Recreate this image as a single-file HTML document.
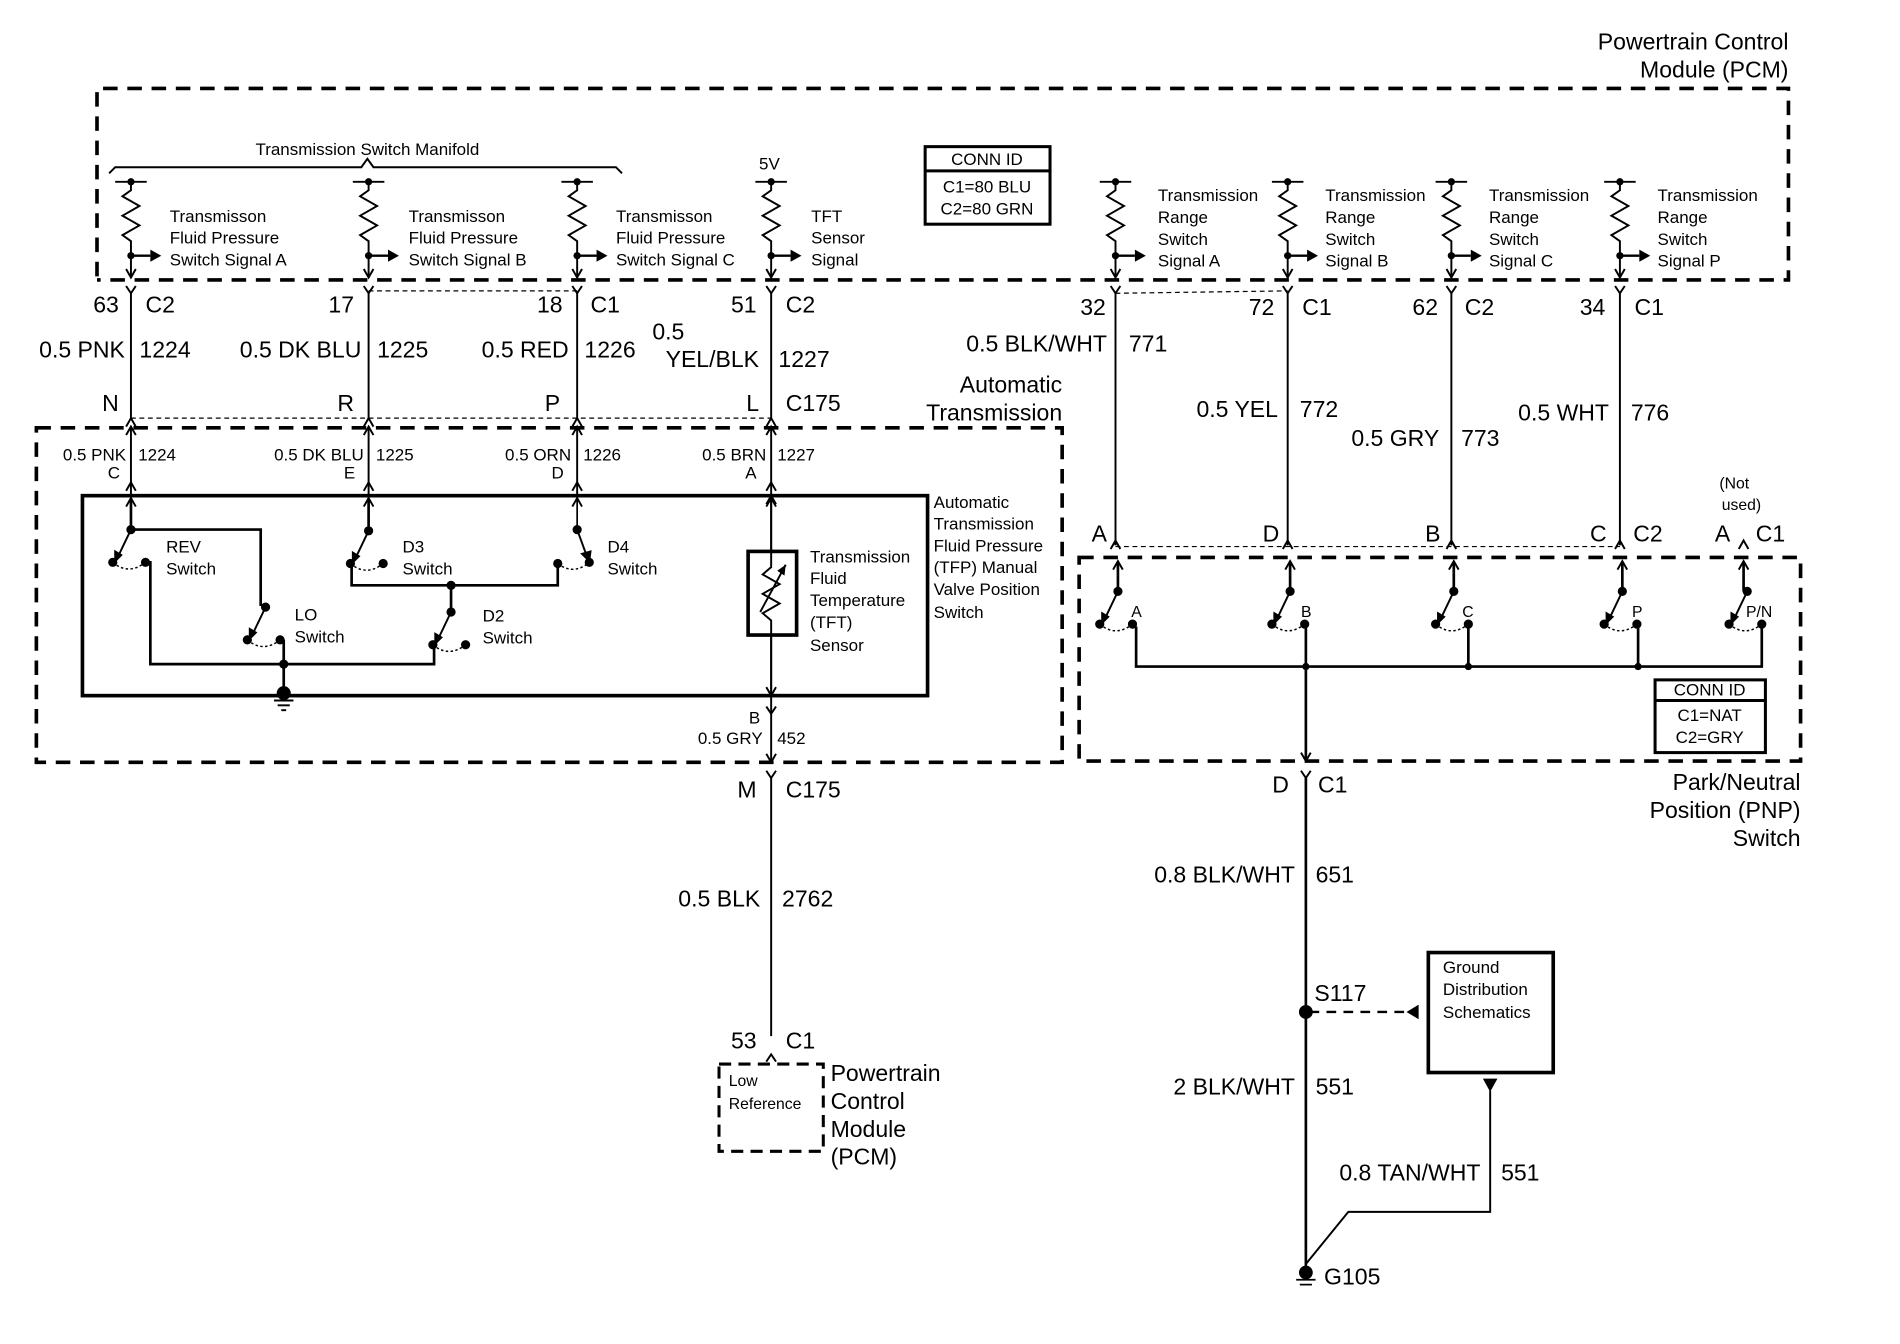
<!DOCTYPE html>
<html><head><meta charset="utf-8"><style>
html,body{margin:0;padding:0;background:#fff;}
svg{display:block;}
text{font-family:"Liberation Sans",Arial,sans-serif;fill:#000;}
.s{font-size:14px;}
.m{font-size:19px;}
.e{text-anchor:end;}
</style></head><body>
<svg width="1900" height="1344" viewBox="0 0 1567 1109" preserveAspectRatio="none" xmlns="http://www.w3.org/2000/svg">
<defs>
<g id="res" stroke="#000" fill="none" stroke-width="1.6">
<line x1="-13" y1="150" x2="13" y2="150"/>
<polyline points="0,150 0,157 -7,162 7,170 -7,178 7,186 -7,194 0,199 0,228"/>
<line x1="0" y1="211" x2="16" y2="211" stroke-width="2"/>
<polygon points="16,206 25,211 16,216" fill="#000" stroke="none"/>
<circle cx="0" cy="150" r="3" fill="#000" stroke="none"/>
<circle cx="0" cy="211" r="3" fill="#000" stroke="none"/>
<polyline points="-4,222 0,229 4,222"/>
<polyline points="-4,236 0,242 4,236"/>
</g>
<g id="up" stroke="#000" fill="none" stroke-width="1.6"><polyline points="-4,7 0,0 4,7"/></g>
<g id="sw" stroke="#000" fill="#000" stroke-width="1.6">
<circle cx="0" cy="0" r="3"/><circle cx="-15" cy="27" r="3"/><circle cx="12" cy="27" r="3"/>
<line x1="0" y1="0" x2="-11" y2="23"/>
<polygon points="-13,26 -13,18 -8,21"/>
<path d="M-15,27 Q-2,38 12,27" fill="none" stroke-dasharray="2,2" stroke-width="1.2"/>
</g>
</defs>

<text x="1475" y="41" class="m e">Powertrain Control</text>
<text x="1475" y="64" class="m e">Module (PCM)</text>
<g stroke="#000" stroke-width="3" fill="none" stroke-dasharray="12,8">
<polyline points="80,228 80,73 1475,73 1475,231 80,231"/>
</g>
<polyline points="90,143 95,138 298,138 303,131 308,138 508,138 513,143" fill="none" stroke="#000" stroke-width="1.6"/>
<text x="303" y="128" class="s" text-anchor="middle">Transmission Switch Manifold</text>
<text x="626" y="140" class="s">5V</text>
<rect x="763" y="121" width="103" height="64" fill="none" stroke="#000" stroke-width="2.5"/>
<line x1="763" y1="141" x2="866" y2="141" stroke="#000" stroke-width="2.5"/>
<text x="814" y="136" class="s" text-anchor="middle">CONN ID</text>
<text x="814" y="159" class="s" text-anchor="middle">C1=80 BLU</text>
<text x="814" y="177" class="s" text-anchor="middle">C2=80 GRN</text>

<use href="#res" x="108"/><use href="#res" x="304"/><use href="#res" x="476"/><use href="#res" x="636"/>
<use href="#res" x="920"/><use href="#res" x="1062"/><use href="#res" x="1197"/><use href="#res" x="1336"/>

<g class="s">
<text x="140" y="183">Transmisson</text><text x="140" y="201">Fluid Pressure</text><text x="140" y="219">Switch Signal A</text>
<text x="337" y="183">Transmisson</text><text x="337" y="201">Fluid Pressure</text><text x="337" y="219">Switch Signal B</text>
<text x="508" y="183">Transmisson</text><text x="508" y="201">Fluid Pressure</text><text x="508" y="219">Switch Signal C</text>
<text x="669" y="183">TFT</text><text x="669" y="201">Sensor</text><text x="669" y="219">Signal</text>
<text x="955" y="166">Transmission</text><text x="955" y="184">Range</text><text x="955" y="202">Switch</text><text x="955" y="220">Signal A</text>
<text x="1093" y="166">Transmission</text><text x="1093" y="184">Range</text><text x="1093" y="202">Switch</text><text x="1093" y="220">Signal B</text>
<text x="1228" y="166">Transmission</text><text x="1228" y="184">Range</text><text x="1228" y="202">Switch</text><text x="1228" y="220">Signal C</text>
<text x="1367" y="166">Transmission</text><text x="1367" y="184">Range</text><text x="1367" y="202">Switch</text><text x="1367" y="220">Signal P</text>
</g>

<g stroke="#000" stroke-width="1.6" fill="none">
<line x1="108" y1="242" x2="108" y2="345"/><line x1="304" y1="242" x2="304" y2="345"/>
<line x1="476" y1="242" x2="476" y2="345"/><line x1="636" y1="242" x2="636" y2="345"/>
<line x1="304" y1="240" x2="476" y2="240" stroke-dasharray="4,3" stroke-width="1"/>
<line x1="108" y1="345" x2="636" y2="345" stroke-dasharray="4,3" stroke-width="1"/>
<line x1="920" y1="242" x2="1062" y2="240" stroke-dasharray="4,3" stroke-width="1"/>
<line x1="108" y1="352" x2="108" y2="409"/><line x1="304" y1="352" x2="304" y2="409"/>
<line x1="476" y1="352" x2="476" y2="409"/><line x1="636" y1="352" x2="636" y2="409"/>
</g>
<use href="#up" x="108" y="345"/><use href="#up" x="304" y="345"/><use href="#up" x="476" y="345"/><use href="#up" x="636" y="345"/>
<use href="#up" x="108" y="352"/><use href="#up" x="304" y="352"/><use href="#up" x="476" y="352"/><use href="#up" x="636" y="352"/>
<use href="#up" x="108" y="398"/><use href="#up" x="304" y="398"/><use href="#up" x="476" y="398"/><use href="#up" x="636" y="398"/>

<g class="m">
<text x="98" y="258" class="e">63</text><text x="120" y="258">C2</text>
<text x="292" y="258" class="e">17</text>
<text x="464" y="258" class="e">18</text><text x="487" y="258">C1</text>
<text x="624" y="258" class="e">51</text><text x="648" y="258">C2</text>
<text x="103" y="295" class="e">0.5 PNK</text><text x="115" y="295">1224</text>
<text x="298" y="295" class="e">0.5 DK BLU</text><text x="311" y="295">1225</text>
<text x="469" y="295" class="e">0.5 RED</text><text x="482" y="295">1226</text>
<text x="538" y="280">0.5</text><text x="626" y="303" class="e">YEL/BLK</text><text x="642" y="303">1227</text>
<text x="98" y="339" class="e">N</text><text x="292" y="339" class="e">R</text>
<text x="462" y="339" class="e">P</text><text x="626" y="339" class="e">L</text><text x="648" y="339">C175</text>
<text x="876" y="324" class="e">Automatic</text><text x="876" y="347" class="e">Transmission</text>
</g>

<rect x="30" y="353" width="846" height="276" fill="none" stroke="#000" stroke-width="3" stroke-dasharray="12,8"/>
<g class="s">
<text x="104" y="380" class="e">0.5 PNK</text><text x="114" y="380">1224</text><text x="99" y="395" class="e">C</text>
<text x="300" y="380" class="e">0.5 DK BLU</text><text x="310" y="380">1225</text><text x="293" y="395" class="e">E</text>
<text x="471" y="380" class="e">0.5 ORN</text><text x="481" y="380">1226</text><text x="465" y="395" class="e">D</text>
<text x="632" y="380" class="e">0.5 BRN</text><text x="641" y="380">1227</text><text x="624" y="395" class="e">A</text>
</g>
<rect x="68" y="409" width="697" height="165" fill="none" stroke="#000" stroke-width="3"/>
<use href="#up" x="108" y="411"/><use href="#up" x="304" y="411"/><use href="#up" x="476" y="411"/><use href="#up" x="636" y="411"/>
<g stroke="#000" stroke-width="2.2" fill="none">
<line x1="108" y1="411" x2="108" y2="437"/>
<polyline points="108,437 215,437 215,500"/>
<polyline points="120,464 124,464 124,548 358,548 358,531"/>
<line x1="234" y1="528" x2="234" y2="574"/>
<line x1="304" y1="411" x2="304" y2="437"/>
<line x1="476" y1="411" x2="476" y2="437" stroke-width="1.4"/>
<polyline points="290,465 290,483 460,483 460,465"/>
<line x1="372" y1="483" x2="372" y2="505"/>
<line x1="636" y1="411" x2="636" y2="574" stroke-width="1.6"/>
</g>
<use href="#sw" x="108" y="437"/>
<use href="#sw" x="219" y="501"/>
<use href="#sw" x="304" y="438"/>
<use href="#sw" x="372" y="505"/>
<g stroke="#000" fill="#000" stroke-width="1.6">
<circle cx="476" cy="437" r="3"/><circle cx="460" cy="465" r="3"/><circle cx="486" cy="464" r="3"/>
<line x1="476" y1="437" x2="484" y2="459"/><polygon points="486,463 480,457 487,455"/>
<path d="M460,465 Q473,475 486,464" fill="none" stroke-dasharray="2,2" stroke-width="1.2"/>
<circle cx="234" cy="548" r="3"/><circle cx="372" cy="483" r="3"/>
<circle cx="234" cy="572" r="5"/>
<line x1="226" y1="578" x2="242" y2="578"/><line x1="229" y1="582" x2="239" y2="582"/><line x1="232" y1="586" x2="236" y2="586"/>
</g>
<rect x="617" y="455" width="40" height="69" fill="#fff" stroke="#000" stroke-width="3"/>
<g stroke="#000" stroke-width="1.6" fill="none">
<line x1="636" y1="409" x2="636" y2="455"/><line x1="636" y1="524" x2="636" y2="574"/>
<polyline points="636,455 636,468 629,474 643,482 629,490 643,498 629,506 636,512 636,524"/>
<line x1="627" y1="505" x2="648" y2="466"/>
<polyline points="632,567 636,574 640,567"/>
<polyline points="632,416 636,409 640,416"/>
</g>
<polygon points="648,466 641,471 647,475" fill="#000"/>
<g class="s">
<text x="137" y="456">REV</text><text x="137" y="474">Switch</text>
<text x="243" y="512">LO</text><text x="243" y="530">Switch</text>
<text x="332" y="456">D3</text><text x="332" y="474">Switch</text>
<text x="501" y="456">D4</text><text x="501" y="474">Switch</text>
<text x="398" y="513">D2</text><text x="398" y="531">Switch</text>
<text x="668" y="464">Transmission</text><text x="668" y="482">Fluid</text><text x="668" y="500">Temperature</text><text x="668" y="518">(TFT)</text><text x="668" y="537">Sensor</text>
<text x="770" y="419">Automatic</text><text x="770" y="437">Transmission</text><text x="770" y="455">Fluid Pressure</text><text x="770" y="473">(TFP) Manual</text><text x="770" y="491">Valve Position</text><text x="770" y="510">Switch</text>
<text x="627" y="597" class="e">B</text>
<text x="629" y="614" class="e">0.5 GRY</text><text x="641" y="614">452</text>
</g>
<g stroke="#000" stroke-width="1.6" fill="none">
<polyline points="632,583 636,589 640,583"/>
<line x1="636" y1="574" x2="636" y2="629"/>
<polyline points="632,622 636,629 640,622"/>
<polyline points="632,636 636,642 640,636"/>
<line x1="636" y1="642" x2="636" y2="855"/>
<polyline points="632,876 636,870 640,876"/>
</g>
<g class="m">
<text x="624" y="658" class="e">M</text><text x="648" y="658">C175</text>
<text x="627" y="748" class="e">0.5 BLK</text><text x="645" y="748">2762</text>
<text x="624" y="865" class="e">53</text><text x="648" y="865">C1</text>
<text x="685" y="892">Powertrain</text><text x="685" y="915">Control</text><text x="685" y="938">Module</text><text x="685" y="961">(PCM)</text>
</g>
<rect x="593" y="878" width="86" height="72" fill="none" stroke="#000" stroke-width="2.5" stroke-dasharray="10,6"/>
<text x="601" y="896" style="font-size:13px">Low</text><text x="601" y="915" style="font-size:13px">Reference</text>

<g stroke="#000" stroke-width="1.6" fill="none">
<line x1="920" y1="242" x2="920" y2="450"/><line x1="1062" y1="242" x2="1062" y2="450"/>
<line x1="1197" y1="242" x2="1197" y2="450"/><line x1="1336" y1="242" x2="1336" y2="450"/>
<line x1="920" y1="451" x2="1336" y2="451" stroke-dasharray="4,3" stroke-width="1"/>
</g>
<use href="#up" x="920" y="446"/><use href="#up" x="1062" y="446"/><use href="#up" x="1197" y="446"/><use href="#up" x="1336" y="446"/><use href="#up" x="1438" y="446"/>
<g class="m">
<text x="912" y="260" class="e">32</text>
<text x="1051" y="260" class="e">72</text><text x="1074" y="260">C1</text>
<text x="1186" y="260" class="e">62</text><text x="1208" y="260">C2</text>
<text x="1324" y="260" class="e">34</text><text x="1348" y="260">C1</text>
<text x="913" y="290" class="e">0.5 BLK/WHT</text><text x="931" y="290">771</text>
<text x="1054" y="344" class="e">0.5 YEL</text><text x="1072" y="344">772</text>
<text x="1187" y="368" class="e">0.5 GRY</text><text x="1205" y="368">773</text>
<text x="1327" y="347" class="e">0.5 WHT</text><text x="1345" y="347">776</text>
<text x="913" y="447" class="e">A</text><text x="1055" y="447" class="e">D</text>
<text x="1188" y="447" class="e">B</text><text x="1325" y="447" class="e">C</text><text x="1347" y="447">C2</text>
<text x="1427" y="447" class="e">A</text><text x="1448" y="447">C1</text>
</g>
<text x="1418" y="403" style="font-size:13px">(Not</text><text x="1420" y="421" style="font-size:13px">used)</text>

<rect x="890" y="460" width="595" height="168" fill="none" stroke="#000" stroke-width="3" stroke-dasharray="12,8"/>
<g stroke="#000" stroke-width="2.2" fill="none">
<line x1="922" y1="464" x2="922" y2="488"/><line x1="1064" y1="464" x2="1064" y2="488"/>
<line x1="1199" y1="464" x2="1199" y2="488"/><line x1="1338" y1="464" x2="1338" y2="488"/>
<line x1="1438" y1="464" x2="1438" y2="488"/>
<polyline points="937,517 937,550 1453,550 1453,517"/>
<line x1="1077" y1="517" x2="1077" y2="628"/>
<line x1="1211" y1="517" x2="1211" y2="550"/><line x1="1351" y1="517" x2="1351" y2="550"/>
</g>
<use href="#up" x="922" y="463"/><use href="#up" x="1064" y="463"/><use href="#up" x="1199" y="463"/><use href="#up" x="1338" y="463"/><use href="#up" x="1438" y="463"/>
<use href="#sw" x="922" y="488"/>
<use href="#sw" x="1064" y="488"/><use href="#sw" x="1199" y="488"/><use href="#sw" x="1338" y="488"/><use href="#sw" x="1441" y="488"/>
<g fill="#000"><circle cx="1077" cy="550" r="3"/><circle cx="1211" cy="550" r="3"/><circle cx="1351" cy="550" r="3"/></g>
<g style="font-size:13px">
<text x="933" y="509">A</text><text x="1073" y="509">B</text><text x="1206" y="509">C</text><text x="1346" y="509">P</text><text x="1440" y="509">P/N</text>
</g>
<rect x="1365" y="561" width="91" height="60" fill="#fff" stroke="#000" stroke-width="2.5"/>
<line x1="1365" y1="578" x2="1456" y2="578" stroke="#000" stroke-width="2.5"/>
<text x="1410" y="574" class="s" text-anchor="middle">CONN ID</text>
<text x="1410" y="595" class="s" text-anchor="middle">C1=NAT</text>
<text x="1410" y="613" class="s" text-anchor="middle">C2=GRY</text>

<g stroke="#000" stroke-width="1.6" fill="none">
<polyline points="1073,621 1077,628 1081,621"/>
<polyline points="1073,636 1077,642 1081,636"/>
<line x1="1077" y1="642" x2="1077" y2="1050" stroke-width="2.2"/>
<line x1="1080" y1="835" x2="1160" y2="835" stroke-dasharray="8,6" stroke-width="2"/>
<rect x="1178" y="786" width="103" height="99" stroke-width="3"/>
<polyline points="1229,900 1229,1000 1112,1000 1077,1043"/>
</g>
<polygon points="1160,835 1170,829 1170,841" fill="#000"/>
<polygon points="1223,890 1235,890 1229,901" fill="#000"/>
<g fill="#000" stroke="#000" stroke-width="1.4">
<circle cx="1077" cy="835" r="5"/>
<circle cx="1077" cy="1050" r="5"/>
<line x1="1069" y1="1056" x2="1085" y2="1056"/><line x1="1072" y1="1060" x2="1082" y2="1060"/>
</g>
<g class="m">
<text x="1063" y="654" class="e">D</text><text x="1087" y="654">C1</text>
<text x="1485" y="652" class="e">Park/Neutral</text><text x="1485" y="675" class="e">Position (PNP)</text><text x="1485" y="698" class="e">Switch</text>
<text x="1068" y="728" class="e">0.8 BLK/WHT</text><text x="1085" y="728">651</text>
<text x="1084" y="826">S117</text>
<text x="1068" y="903" class="e">2 BLK/WHT</text><text x="1085" y="903">551</text>
<text x="1221" y="974" class="e">0.8 TAN/WHT</text><text x="1238" y="974">551</text>
<text x="1092" y="1060">G105</text>
</g>
<g class="s">
<text x="1190" y="803">Ground</text><text x="1190" y="821">Distribution</text><text x="1190" y="840">Schematics</text>
</g>
</svg>
</body></html>
